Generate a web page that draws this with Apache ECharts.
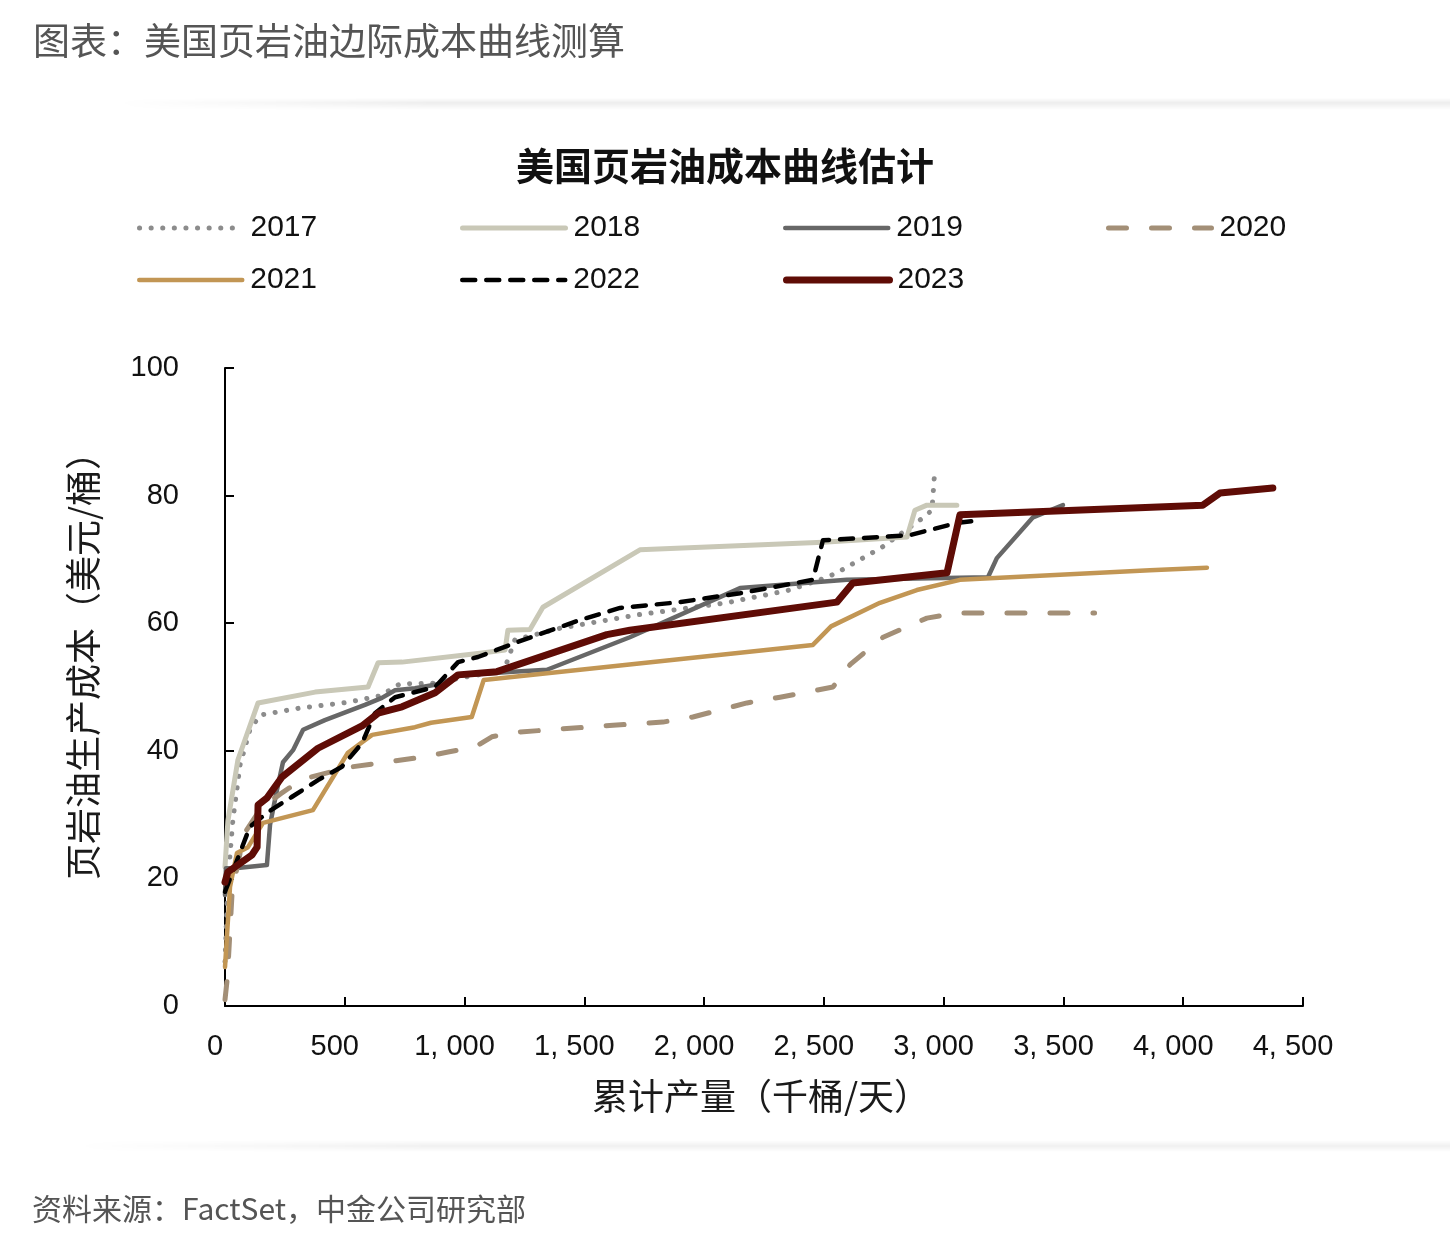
<!DOCTYPE html>
<html><head><meta charset="utf-8">
<script src="https://cdn.jsdelivr.net/npm/echarts@6/dist/echarts.min.js"></script>
<style>
html,body{margin:0;padding:0;background:#fff;}
#wrap{position:relative;width:1450px;height:1246px;overflow:hidden;background:#fff;}
.band{position:absolute;left:0;width:1450px;height:12px;}
#b1{top:98px;background:linear-gradient(to bottom,rgba(0,0,0,0.0),rgba(0,0,0,0.07) 40%,rgba(0,0,0,0));-webkit-mask-image:linear-gradient(to right,transparent 8%,#000 30%);mask-image:linear-gradient(to right,transparent 8%,#000 30%);}
#b2{top:1140px;background:linear-gradient(to bottom,rgba(0,0,0,0.0),rgba(0,0,0,0.06) 50%,rgba(0,0,0,0));-webkit-mask-image:linear-gradient(to right,transparent 5%,#000 30%);mask-image:linear-gradient(to right,transparent 5%,#000 30%);}
#chart{position:absolute;left:0;top:0;width:1450px;height:1246px;}
</style></head>
<body><div id="wrap"><div class="band" id="b1"></div><div class="band" id="b2"></div><div id="chart"></div></div>
<script>
const seriesNames = ['2017','2018','2019','2020','2021','2022','2023'];
const xTicks = [0,500,1000,1500,2000,2500,3000,3500,4000,4500];
const yTicks = [0,20,40,60,80,100];

const x2017 = [0,12,33,63,104,146,313,513,647,730,877,1023,1160,1177,1210,1398,1720,2095,2358,2513,2559,2742,2913,2951,2963];
const y2017 = [7,19.7,29.2,37.8,43.3,45.6,46.7,47.6,48.6,50.5,50.6,51.7,52.5,53.9,57.4,59.2,61.3,63.2,65.2,67.2,68.0,71.9,76.5,77.7,84.0];

const x2018 = [0,12,54,138,376,597,639,739,1064,1169,1181,1273,1327,1732,2496,2847,2880,2930,3055];
const y2018 = [21.8,29,38.6,47.5,49.2,50.0,53.8,53.9,55.3,55.8,58.9,59.0,62.5,71.5,72.7,73.5,77.7,78.5,78.5];

const x2019 = [0,4,42,175,188,217,242,284,326,417,584,655,710,793,900,973,1202,1344,1690,2150,2596,3185,3222,3373,3498];
const y2019 = [17.4,21.6,21.6,22.1,28.4,33.9,38.2,40.1,43.3,44.8,47.2,48.3,49.5,49.8,50.5,51.8,52.4,52.7,57.8,65.5,66.8,67.2,70.2,76.6,78.5];

const x2020 = [0,10,30,80,150,230,320,513,822,931,1044,1114,1210,1620,1828,1953,2179,2317,2538,2609,2747,2930,3055,3630];
const y2020 = [1,4.5,18,27,31,33.2,35.5,37.4,39.0,39.8,40.6,42.2,42.9,44.0,44.5,45.3,47.5,48.4,50.0,53.5,57.8,60.8,61.6,61.6];

const x2021 = [0,21,50,96,159,367,513,614,793,860,1030,1080,2454,2530,2734,2888,3068,3861,4099];
const y2021 = [6.1,18.7,24.0,24.9,28.7,30.7,39.7,42.5,43.7,44.4,45.3,51.1,56.6,59.5,63.2,65.2,66.8,68.3,68.7];

const x2022 = [0,104,180,280,388,488,572,626,710,877,973,1056,1210,1482,1649,1899,2150,2454,2496,2734,2859,3055,3160];
const y2022 = [17.9,28.1,30.4,32.8,35.4,37.5,41.2,45.9,48.4,50.0,53.9,54.7,56.9,60.5,62.4,63.3,64.7,66.8,73.0,73.5,73.8,75.7,76.2];

const x2023 = [0,12,113,134,138,175,238,388,572,639,739,877,973,1135,1594,1690,2554,2621,3014,3068,4082,4153,4374];
const y2023 = [19.4,21.0,23.7,24.9,31.5,32.6,35.9,40.4,43.9,45.9,46.9,49.1,51.9,52.4,58.2,58.9,63.3,66.3,67.9,77.0,78.5,80.4,81.2];

const xs = [x2017,x2018,x2019,x2020,x2021,x2022,x2023];
const ys = [y2017,y2018,y2019,y2020,y2021,y2022,y2023];

const styles = [
  {color:'#8c8c8c', width:5, type:[0.1,11.5], cap:'round'},
  {color:'#c9c8b7', width:5, type:'solid', cap:'round'},
  {color:'#676767', width:4.5, type:'solid', cap:'round'},
  {color:'#a38f77', width:5, type:[18,25], cap:'round'},
  {color:'#c29654', width:4.5, type:'solid', cap:'round'},
  {color:'#000000', width:4.5, type:[13,11], cap:'round'},
  {color:'#5f0c06', width:7, type:'solid', cap:'round'}
];
const legendPos = [[137,213],[460,213],[783,213],[1106,213],[137,265],[460,265],[783,265]];

const series = seriesNames.map((n,i)=>({
  name:n, type:'line', symbol:'none', showSymbol:false,
  data: xs[i].map((x,j)=>[x, ys[i][j]]),
  lineStyle:{color:styles[i].color, width:styles[i].width, type:styles[i].type, cap:styles[i].cap, join:'round'},
  itemStyle:{color:styles[i].color},
  z: 2+i
}));

const legends = seriesNames.map((n,i)=>({
  data:[n], left:legendPos[i][0], top:legendPos[i][1], itemWidth:103, itemHeight:8,
  padding:0, selectedMode:false,
  itemStyle:{opacity:0},
  lineStyle:{width:styles[i].width, type:styles[i].type, cap:'round', color:styles[i].color},
  textStyle:{fontSize:30, color:'#111', fontFamily:'Liberation Sans, Arial, sans-serif', padding:[0,0,0,3]}
}));

const cjk = '"Noto Sans CJK SC", sans-serif';
const fmt = v => v >= 1000 ? Math.floor(v/1000) + ', ' + String(v%1000).padStart(3,'0') : String(v);

const chart = echarts.init(document.getElementById('chart'), null, {renderer:'canvas'});
chart.setOption({
  backgroundColor:'transparent',
  animation:false,
  title:[
    {text:'图表：美国页岩油边际成本曲线测算', left:28, top:17, textStyle:{fontSize:37, fontWeight:'normal', color:'#555', fontFamily:cjk}},
    {text:'美国页岩油成本曲线估计', left:'center', top:142, textStyle:{fontSize:38, fontWeight:'bold', color:'#111', fontFamily:cjk}},
    {text:'资料来源：FactSet，中金公司研究部', left:27, top:1189, textStyle:{fontSize:30, fontWeight:'normal', color:'#555', fontFamily:cjk}}
  ],
  legend: legends,
  grid:{left:225, right:147, top:368, bottom:240, containLabel:false},
  xAxis:{
    type:'value', min:0, max:4500, interval:500,
    name:'累计产量（千桶/天）', nameLocation:'middle', nameGap:72,
    nameTextStyle:{fontSize:36, color:'#1a1a1a', fontFamily:cjk, padding:[0,6,0,0]},
    axisLine:{show:true, lineStyle:{color:'#000', width:2}},
    axisTick:{show:true, inside:true, length:9, lineStyle:{color:'#000', width:2}},
    axisLabel:{fontSize:29, color:'#111', margin:26, fontFamily:'Liberation Sans, Arial, sans-serif', formatter:fmt, padding:[0,20,0,0]},
    splitLine:{show:false}
  },
  yAxis:{
    type:'value', min:0, max:100, interval:20,
    name:'页岩油生产成本（美元/桶）', nameLocation:'middle', nameGap:124, nameRotate:90,
    nameTextStyle:{fontSize:36, color:'#1a1a1a', fontFamily:cjk, padding:[0,0,0,60]},
    axisLine:{show:true, lineStyle:{color:'#000', width:2}},
    axisTick:{show:true, inside:true, length:9, lineStyle:{color:'#000', width:2}},
    axisLabel:{fontSize:29, color:'#111', margin:46, fontFamily:'Liberation Sans, Arial, sans-serif'},
    splitLine:{show:false}
  },
  series: series
});
</script>
</body></html>
